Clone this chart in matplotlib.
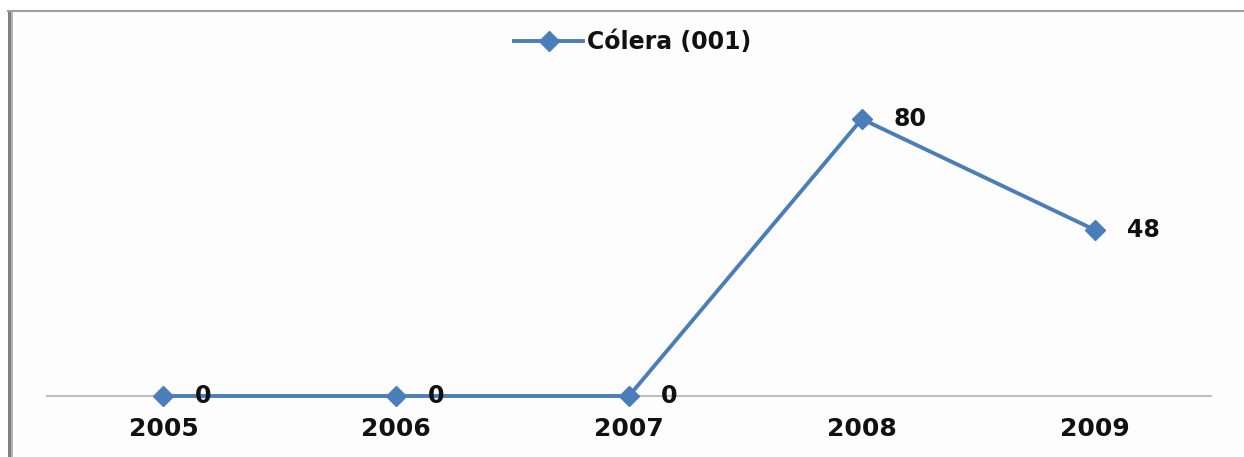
import matplotlib
matplotlib.use("Agg")
import matplotlib.pyplot as plt
from matplotlib.patches import Rectangle
from matplotlib.lines import Line2D

years = ["2005", "2006", "2007", "2008", "2009"]
values = [0, 0, 0, 80, 48]
series_name = "Cólera (001)"

W, H = 1244, 457
fig = plt.figure(figsize=(W / 100, H / 100), dpi=100)
fig.patch.set_facecolor("white")

# chart area background and frame
fig.add_artist(Rectangle((8 / W, 0), 1 - 8 / W, 1 - 10 / H, transform=fig.transFigure,
                         facecolor="#FDFDFD", edgecolor="none", zorder=0))
fig.add_artist(Rectangle((8 / W, 0), 3 / W, 1 - 10 / H, transform=fig.transFigure,
                         facecolor="#808080", edgecolor="none", zorder=1))
fig.add_artist(Rectangle((11 / W, 0), 2 / W, 1 - 10 / H, transform=fig.transFigure,
                         facecolor="#B4B4B4", edgecolor="none", zorder=1))
fig.add_artist(Line2D([8 / W, 1], [1 - 10.5 / H, 1 - 10.5 / H], transform=fig.transFigure,
                      color="#A0A0A0", linewidth=1.5, zorder=1))

left, right = 47 / W, 1211 / W
bottom = (H - 396) / H
ymax = 90
px_per_unit = 277 / 80
top_px = 396 - ymax * px_per_unit
ax = fig.add_axes([left, bottom, right - left, (396 - top_px) / H])
ax.set_facecolor("none")

x = list(range(len(years)))
line, = ax.plot(x, values, color="#4A7EBB", linewidth=2.8, marker="D", markersize=10,
                markerfacecolor="#4A7EBB", markeredgecolor="#4A7EBB", label=series_name,
                zorder=3, clip_on=False)

ax.set_xlim(-0.5, len(years) - 0.5)
ax.set_ylim(0, ymax)
for s in ["top", "right", "left"]:
    ax.spines[s].set_visible(False)
ax.spines["bottom"].set_color("#BFBFBF")
ax.spines["bottom"].set_linewidth(1.5)
ax.spines["bottom"].set_zorder(2)
ax.set_yticks([])
ax.set_xticks(x)
ax.set_xticklabels(years, fontsize=18, fontweight="bold", color="#111111")
ax.tick_params(axis="x", length=0, pad=15)

for xi, v in zip(x, values):
    ax.annotate(str(v), (xi, v), xytext=(23, 0), textcoords="offset points",
                ha="left", va="center", fontsize=17, fontweight="bold", color="#111111",
                annotation_clip=False, zorder=4)

fig.legend(handles=[line], labels=[series_name], loc="center",
           bbox_to_anchor=(633 / W, 1 - 42 / H), frameon=False,
           prop={"size": 17, "weight": "bold"}, handlelength=2.9, handletextpad=0.2,
           labelcolor="#111111")

fig.savefig("out.png", dpi=100)
